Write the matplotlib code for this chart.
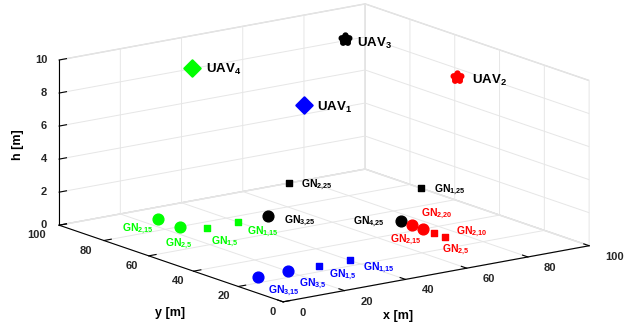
import matplotlib
matplotlib.use('Agg')
import matplotlib.pyplot as plt
from mpl_toolkits.mplot3d import proj3d

plt.rcParams['font.family'] = ['Liberation Sans', 'DejaVu Sans']
plt.rcParams['font.weight'] = 'bold'
plt.rcParams['mathtext.fontset'] = 'custom'
plt.rcParams['mathtext.rm'] = 'Liberation Sans:bold'
plt.rcParams['mathtext.bf'] = 'Liberation Sans:bold'
plt.rcParams['mathtext.it'] = 'Liberation Sans:bold'
plt.rcParams['mathtext.default'] = 'bf'

GREEN = (0, 1, 0)

# UAVs
uav_labels = ['UAV$_1$', 'UAV$_2$', 'UAV$_3$', 'UAV$_4$']
uav_x = [25, 75, 75, 25]
uav_y = [25, 25, 75, 75]
uav_h = [9.9, 9.9, 9.9, 9.8]
uav_colors = ['blue', 'red', 'black', GREEN]
uav_markers = ['D', '*', '*', 'D']
uav_label_off = [(13, -6), (15, -7), (12, -8), (14, -4)]

# ground nodes served by UAV1 (blue)
gn1_x = [10, 20, 30, 40]
gn1_y = [25, 25, 25, 25]
gn1_labels = ['GN$_{3{,}15}$', 'GN$_{3{,}5}$', 'GN$_{1{,}5}$', 'GN$_{1{,}15}$']
gn1_off = [(10, -16), (11, -15), (10, -11), (13, -10)]

# ground nodes served by UAV2 (red)
gn2_x = [75, 75, 75, 75]
gn2_y = [45, 40, 35, 30]
gn2_labels = ['GN$_{2{,}20}$', 'GN$_{2{,}15}$', 'GN$_{2{,}10}$', 'GN$_{2{,}5}$']
gn2_off = [(9, 9), (-33, -13), (22, -1), (-3, -15)]

# ground nodes served by UAV3 (black)
gn3_x = [50, 75, 75, 100]
gn3_y = [75, 50, 100, 75]
gn3_labels = ['GN$_{3{,}25}$', 'GN$_{4{,}25}$', 'GN$_{2{,}25}$', 'GN$_{1{,}25}$']
gn3_off = [(16, -7), (-48, -3), (12, -4), (13, -4)]

# ground nodes served by UAV4 (green)
gn4_x = [25, 25, 30, 40]
gn4_y = [90, 80, 75, 75]
gn4_labels = ['GN$_{2{,}15}$', 'GN$_{2{,}5}$', 'GN$_{1{,}5}$', 'GN$_{1{,}15}$']
gn4_off = [(-36, -12), (-15, -20), (4, -17), (9, -12)]

gn_markers = ['o', 'o', 's', 's']

ticks_xy = [0, 20, 40, 60, 80, 100]
ticks_xy_labels = ['0', '20', '40', '60', '80', '100']
ticks_h = [0, 2, 4, 6, 8, 10]
ticks_h_labels = ['0', '2', '4', '6', '8', '10']

W, H = 639, 333
fig = plt.figure(figsize=(W / 100, H / 100), dpi=100)
side = W / H
ax = fig.add_axes([-4 / W, -0.5 * (side - 1) + 5 / H, 1, side], projection='3d')
ax.set_proj_type('ortho')
ax.view_init(elev=14.5, azim=-126.2)
ax.set_box_aspect((1, 1, 0.45), zoom=0.855)
ax.set_xlim(0, 100)
ax.set_ylim(0, 100)
ax.set_zlim(0, 10)
ax.set_xticks(ticks_xy)
ax.set_yticks(ticks_xy)
ax.set_zticks(ticks_h)
ax.set_xticklabels([])
ax.set_yticklabels([])
ax.set_zticklabels([])

for axis in (ax.xaxis, ax.yaxis, ax.zaxis):
    axis.set_pane_color((1, 1, 1, 1))
    axis.pane.set_edgecolor((0.85, 0.85, 0.85))
    axis._axinfo['grid']['color'] = (0.9, 0.9, 0.9, 1)
    axis._axinfo['grid']['linewidth'] = 0.7
    axis._axinfo['axisline']['color'] = (0.45, 0.45, 0.45, 1)
    axis._axinfo['tick']['color'] = (0.45, 0.45, 0.45, 1)
    axis._axinfo['tick']['inward_factor'] = 0.0
    axis._axinfo['tick']['outward_factor'] = 0.3
    axis.line.set_linewidth(0.8)

fig.text(398 / W, 1 - 316 / H, 'x [m]', fontsize=9, fontweight='bold',
         ha='center', va='center')
fig.text(170 / W, 1 - 313 / H, 'y [m]', fontsize=9, fontweight='bold',
         ha='center', va='center')
fig.text(18 / W, 1 - 145 / H, 'h [m]', fontsize=9, fontweight='bold',
         ha='center', va='center', rotation=90)

M = ax.get_proj()
TICK_COLOR = (0.15, 0.15, 0.15)


def label(x, y, z, s, off, color, fs, ha='left', va='baseline'):
    px, py, _ = proj3d.proj_transform(x, y, z, M)
    ax.annotate(s, xy=(px, py), xycoords='data', xytext=off,
                textcoords='offset pixels', color=color, fontsize=fs,
                fontweight='bold', ha=ha, va=va,
                annotation_clip=False)


# tick labels
for v, t in zip(ticks_xy, ticks_xy_labels):
    label(v, 0, 0, t, (16, -11), TICK_COLOR, 8, ha='left', va='center')
    label(0, v, 0, t, (-7 - 0.065 * v, -10), TICK_COLOR, 8, ha='right', va='center')
for v, t in zip(ticks_h, ticks_h_labels):
    label(0, 100, v, t, (-12, 0), TICK_COLOR, 8, ha='right', va='center')

groups = [
    (gn1_x, gn1_y, gn1_labels, gn1_off, 'blue'),
    (gn2_x, gn2_y, gn2_labels, gn2_off, 'red'),
    (gn3_x, gn3_y, gn3_labels, gn3_off, 'black'),
    (gn4_x, gn4_y, gn4_labels, gn4_off, GREEN),
]
for gx, gy, gl, go, col in groups:
    for i in range(len(gx)):
        m = gn_markers[i]
        s = 60 if m == 'o' else 20
        ax.scatter([gx[i]], [gy[i]], [0], marker=m, s=s, color=col,
                   edgecolors=col, depthshade=False)
        label(gx[i], gy[i], 0, gl[i], go[i], col, 7.5)

for i in range(len(uav_x)):
    m = uav_markers[i]
    if m == 'D':
        ax.scatter([uav_x[i]], [uav_y[i]], [uav_h[i]], marker='D', s=70,
                   color=uav_colors[i], edgecolors=uav_colors[i],
                   linewidths=1.5, depthshade=False)
    else:
        ax.scatter([uav_x[i]], [uav_y[i]], [uav_h[i]], marker='*', s=35,
                   color=uav_colors[i], edgecolors=uav_colors[i],
                   linewidths=4.5, depthshade=False)
    label(uav_x[i], uav_y[i], uav_h[i], uav_labels[i], uav_label_off[i],
          'black', 9.5)

fig.savefig('out.png', dpi=100)
